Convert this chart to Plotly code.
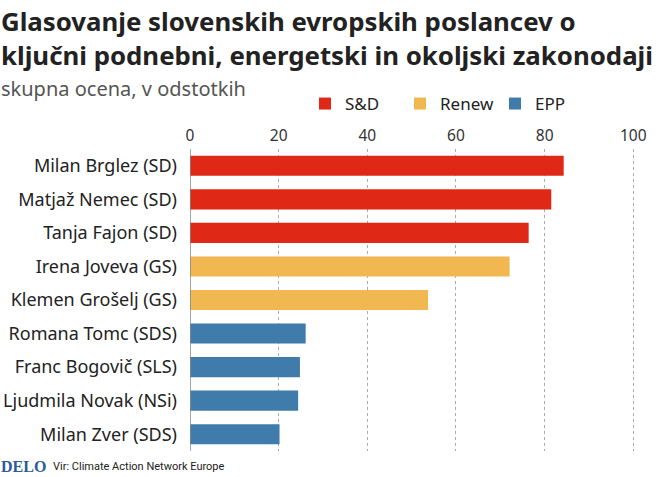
import plotly.graph_objects as go

# ---- data ----
names = ["Milan Brglez (SD)", "Matjaž Nemec (SD)", "Tanja Fajon (SD)",
         "Irena Joveva (GS)", "Klemen Grošelj (GS)", "Romana Tomc (SDS)",
         "Franc Bogovič (SLS)", "Ljudmila Novak (NSi)", "Milan Zver (SDS)"]
values = [84.3, 81.5, 76.4, 72.1, 53.7, 26.1, 24.8, 24.4, 20.2]
groups = ["S&D", "S&D", "S&D", "Renew", "Renew", "EPP", "EPP", "EPP", "EPP"]
group_order = ["S&D", "Renew", "EPP"]
group_colors = {"S&D": "#e02816", "Renew": "#f1b852", "EPP": "#3f7cab"}
x_ticks = [0, 20, 40, 60, 80, 100]

title = "Glasovanje slovenskih evropskih poslancev o<br>ključni podnebni, energetski in okoljski zakonodaji"
subtitle = "skupna ocena, v odstotkih"
source = "Vir: Climate Action Network Europe"

# ---- layout geometry ----
WID, HEI = 660, 477
L, R, T, B = 190, 9, 149, 26
PW, PH = WID - L - R, HEI - T - B

def xp(px):
    return (px - L) / PW

def yp(py):
    return 1 - (py - T) / PH

fig = go.Figure()
for g in group_order:
    ys = [n for n, gg in zip(names, groups) if gg == g]
    xs = [v for v, gg in zip(values, groups) if gg == g]
    fig.add_trace(go.Bar(
        x=xs, y=ys, orientation="h", name=g,
        marker=dict(color=group_colors[g], line=dict(width=0)),
        hoverinfo="x+y",
    ))

fig.update_layout(
    width=WID, height=HEI,
    margin=dict(l=L, r=R, t=T, b=B, autoexpand=False),
    paper_bgcolor="white", plot_bgcolor="white",
    barmode="relative", bargap=0.4,
    font=dict(family="Noto Sans", color="#222"),
    legend=dict(orientation="h", x=xp(305), xanchor="left", y=yp(104), yanchor="middle",
                font=dict(size=17, color="#222"), entrywidth=50, entrywidthmode="pixels",
                traceorder="normal", itemclick=False, itemdoubleclick=False,
                bgcolor="rgba(0,0,0,0)"),
    xaxis=dict(range=[0, 104], side="top", tickvals=x_ticks,
               tickfont=dict(size=15.5, color="#333"),
               showgrid=True, gridcolor="#aaaaaa", griddash="dot", gridwidth=1,
               zeroline=False, showline=False, ticks="", ticklabelstandoff=4,
               fixedrange=True),
    yaxis=dict(categoryorder="array", categoryarray=names, autorange="reversed",
               tickfont=dict(size=18, color="#222"), showgrid=False,
               zeroline=False, showline=False, ticks="", ticklabelstandoff=12,
               fixedrange=True),
    shapes=[dict(type="line", xref="x", yref="paper", x0=0, x1=0, y0=0, y1=1,
                 line=dict(color="#888", width=1.5))],
    annotations=[
        dict(text="<b>" + title + "</b>", xref="paper", yref="paper", x=xp(-1), y=yp(1),
             xanchor="left", yanchor="top", align="left", showarrow=False,
             font=dict(family="Noto Sans", size=25.8, color="#222")),
        dict(text=subtitle, xref="paper", yref="paper", x=xp(-1), y=yp(88),
             xanchor="left", yanchor="middle", showarrow=False,
             font=dict(size=20, color="#555")),
        dict(text="<b>DELO</b>", xref="paper", yref="paper", x=xp(-1), y=yp(466),
             xanchor="left", yanchor="middle", showarrow=False,
             font=dict(family="Liberation Serif", size=16, color="#2a5b9a")),
        dict(text=source, xref="paper", yref="paper", x=xp(51), y=yp(466),
             xanchor="left", yanchor="middle", showarrow=False,
             font=dict(family="Roboto", size=11, color="#222")),
    ],
)

fig.write_html("out.html", config={"displayModeBar": False},
               post_script="document.body.style.margin='0';document.body.style.overflow='hidden';")
